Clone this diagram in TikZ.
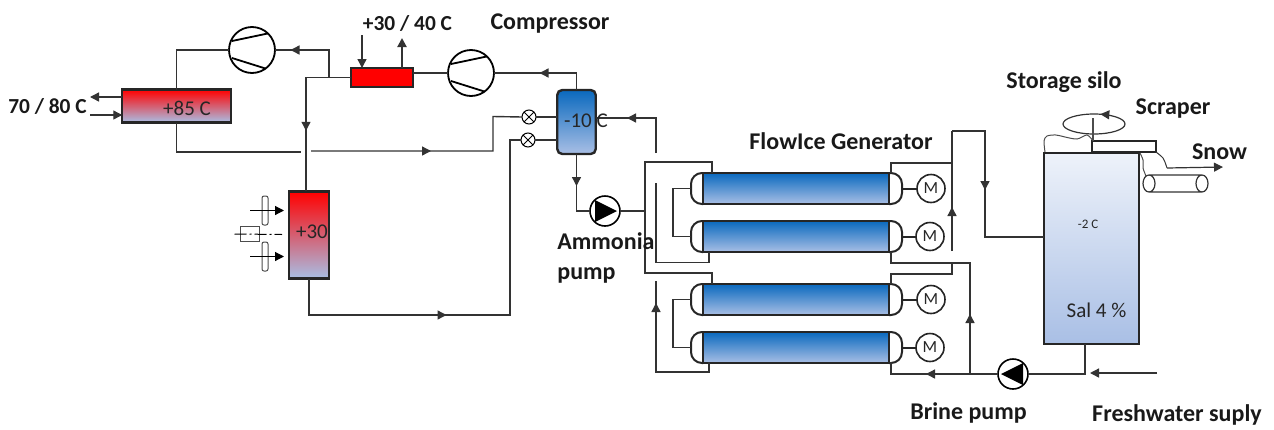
\documentclass[tikz,border=0pt]{standalone}
\usepackage{fontspec}
\setmainfont{Carlito}
\usetikzlibrary{positioning,arrows.meta,decorations.markings}
\definecolor{hotred}{RGB}{255,0,0}
\definecolor{coldblue}{RGB}{169,191,229}
\definecolor{deepblue}{RGB}{10,105,190}
\tikzset{>={Triangle[length=4.5pt,width=4.5pt]}, % all the arrow heads
x=0.5pt,y=-0.5pt, % one unit is one pixel of the sheet
pipe/.style={line width=0.7pt,black!80}, % the plain connecting lines
tip/.style={postaction={decorate},decoration={markings,mark=at position #1 with {\arrow{>}}}}, % arrow head part way along a line
box/.style={draw,line width=1.2pt,black!85,inner sep=0pt,outer sep=0pt}, % every vessel
hxhot/.style={box,shading angle=0,top color=hotred,bottom color=coldblue,middle color=hotred!50!coldblue}, % hot to cold
hxcold/.style={box,top color=deepblue,bottom color=coldblue,minimum width=19.25pt,minimum height=32pt,rounded corners=2.5pt},
tube/.style={box,top color=deepblue,bottom color=coldblue,minimum width=93pt,minimum height=15.5pt},
compressor/.style={circle,draw,line width=0.9pt,inner sep=0pt,outer sep=0pt,minimum size=23pt,
  path picture={\draw[line width=0.9pt,shift={(path picture bounding box.center)}] (-20,-9) -- (18,-17) (-20,8) -- (15,19);}},
pump/.style={circle,draw,line width=0.8pt,inner sep=0pt,outer sep=0pt,minimum size=15pt,
  path picture={\fill[shift={(path picture bounding box.center)}] (-10*#1,-11) -- (12*#1,0) -- (-10*#1,11) -- cycle;}},
valve/.style={circle,draw,line width=0.5pt,inner sep=0pt,outer sep=0pt,minimum size=7pt,
  path picture={\draw[line width=0.5pt,shift={(path picture bounding box.center)}] (-5,-5) -- (5,5) (-5,5) -- (5,-5);}},
motor/.style={circle,draw,line width=0.8pt,black!85,inner sep=0pt,outer sep=0pt,minimum size=14pt,font=\fontsize{8.5}{9}\selectfont},
fan/.style={draw,line width=0.5pt,black!70,rounded corners=1pt,minimum width=3pt,minimum height=14.5pt,inner sep=0pt,outer sep=0pt},
bold/.style={font=\fontsize{12}{15}\selectfont\bfseries,text=black!90,inner sep=0pt,align=left},
boldsmall/.style={bold,font=\fontsize{10.7}{13}\selectfont\bfseries},
temp/.style={font=\fontsize{10.5}{12}\selectfont,text=black!85,inner sep=0pt},
}
\begin{document}
\begin{tikzpicture}
\useasboundingbox (0,0) rectangle (1274,429);
% vessels
\node[hxhot,minimum width=54.25pt,minimum height=16.5pt] (hx85) at (176.5,106) {};
\node[hxhot,minimum width=20pt,minimum height=43.5pt] (hx30) at (309,235) {};
\node[box,fill=hotred,minimum width=31.25pt,minimum height=9.5pt] (cooler) at (382,77.5) {};
\node[hxcold] (evap) at (576.5,122) {};
\node[box,top color=white!80!coldblue,bottom color=coldblue,minimum width=47.5pt,minimum height=95.5pt] (silo) at (1091.5,248.5) {};
\node[box,line width=0.8pt,fill=white,minimum width=32pt,minimum height=5.5pt] (scraper) at (1124,146.5) {};
% machines
\node[compressor] (comp1) at (252,50) {};
\node[compressor] (comp2) at (471,73) {};
\node[pump=1] (pump1) at (605,211) {};
\node[pump=-1] (pump2) at (1013,374) {};
\node[valve] (valve1) at (529,117) {};
\node[valve] (valve2) at (528,140) {};
% generator
\node[tube] (tube1) at (796,188.5) {};
\node[tube,below of=tube1,node distance=24pt] (tube2) {};
\node[tube,below of=tube2,node distance=31.5pt] (tube3) {};
\node[tube,below of=tube3,node distance=24pt] (tube4) {};
\node[motor,right of=tube1,node distance=67.5pt] (mot1) {M};
\node[motor,right of=tube2,node distance=67pt] (mot2) {M};
\node[motor,right of=tube3,node distance=67.5pt] (mot3) {M};
\node[motor,right of=tube4,node distance=67pt] (mot4) {M};
\foreach \t/\m in {tube1/mot1,tube2/mot2,tube3/mot3,tube4/mot4}{
  \draw[line width=1pt,black!85,rounded corners=5.5pt] (\t.north west) -- ++(-12,0) -- ++(0,31) -- (\t.south west);
  \draw[line width=1pt,black!85,rounded corners=5.5pt] (\t.north east) -- ++(13,0) -- ++(0,31) -- (\t.south east);
  \coordinate (\t L) at ([xshift=-6pt]\t.west);
  \coordinate (\t R) at ([xshift=6.5pt]\t.east);
  \draw[line width=1pt,black!85] (\t R) -- (\m);
}
\draw[pipe] (tube1L) -- ++(-18,0) |- (tube2L);
\draw[pipe] (tube3L) -- ++(-18,0) |- (tube4L);
% fan of the condenser
\node[fan] (fan1) at (265,210.5) {};
\node[fan] (fan2) at (265,256.5) {};
\node[draw,line width=0.5pt,black!70,minimum width=9.5pt,minimum height=7.5pt,inner sep=0pt] (fanmot) at (249.5,234) {};
\draw[->,line width=0.6pt] ([xshift=-7.5pt]fan1.center) -- ([xshift=9.5pt]fan1.center);
\draw[->,line width=0.6pt] ([xshift=-7.5pt]fan2.center) -- ([xshift=9.5pt]fan2.center);
\coordinate (axisend) at (282,234.5);
\draw[line width=0.5pt,dash pattern=on 6pt off 1.5pt on 1pt off 1.5pt] ([xshift=-7.5pt]fanmot.center) -- (axisend);
% scraper and snow
\coordinate (ringE) at (1125,124);
\draw[line width=0.6pt,black!80,tip=14pt] (ringE) arc[start angle=360,end angle=0,x radius=31,y radius=10];
\coordinate (axisT) at (1093,118);
\draw[line width=0.6pt,black!70] (axisT) -- (scraper.north west -| axisT);
\draw[line width=0.5pt,black!70] plot[smooth] coordinates {(1045,152) (1044,141) (1047,136) (1056,135) (1065,137) (1077,139) (1087,135) (1093,141)};
\draw[line width=0.5pt,black!70] plot[smooth] coordinates {(1140,153) (1143,160) (1143,168) (1146,176)};
\coordinate (chute) at (1156,152);
\coordinate (snowS) at (1167,168);
\coordinate (snowE) at (1223,167);
\draw[line width=0.5pt,black!80] plot[smooth] coordinates {(chute) (1163,158) (1166,165) (snowS)};
\draw[->,line width=0.6pt,black!80] (snowS) -- (snowE);
\coordinate (beltL) at (1149,183.5);
\coordinate (beltR) at (1202,183.5);
\draw[line width=0.6pt,black!80] (1149,175) -- (1202,175) (1149,192) -- (1202,192) (beltL) circle[x radius=6,y radius=8.5] (beltR) circle[x radius=6,y radius=8.5];
% refrigerant side
\coordinate (junc) at (329,77.5);
\coordinate (drop) at (306,191);
\coordinate (gapL) at (301,152);
\coordinate (gapR) at (311,151);
\coordinate (turn1) at (493,116.5);
\coordinate (turn2) at (510,140);
\coordinate (evapR) at (595.5,118);
\coordinate (retup) at (656,153);
\draw[pipe,tip=33pt] (junc) |- (comp1.east);
\draw[pipe] (comp1.west) -| (hx85.north);
\draw[pipe,tip=49pt] (cooler.west) -| (drop);
\draw[pipe] (cooler.east |- comp2.west) -- (comp2.west);
\draw[pipe,tip=27pt] (evap.north) |- (comp2.east);
\draw[pipe] (hx85.south) |- (gapL);
\draw[pipe,tip=60pt] (gapR) -| (turn1) -- (valve1.west);
\draw[pipe,tip=87pt] (hx30.south) |- (turn2 |- 0,315) -- (turn2) -- (valve2.west);
\draw[pipe] (valve1.east) -- (valve1 -| evap.west);
\draw[pipe] (valve2.east) -- (valve2 -| evap.west);
\draw[pipe,tip=32pt] (retup) |- (evapR);
\draw[pipe,tip=16pt] (evap.south) |- (pump1.west);
% heat sinks
\coordinate (coolIn) at (362,35);
\coordinate (coolOut) at (402,38);
\coordinate (hotOut) at (90,97);
\coordinate (hotIn) at (90,115);
\draw[->,pipe] (coolIn) -- (coolIn |- cooler.north);
\draw[->,pipe,line width=1pt] (coolOut |- cooler.north) -- (coolOut);
\draw[->,pipe] (hotOut -| hx85.west) -- (hotOut);
\draw[->,pipe] (hotIn) -- (hotIn -| hx85.west);
% manifolds on the left
\coordinate (feed1) at (712,173);
\coordinate (feed3) at (712,284);
\coordinate (manT) at (645,162);
\coordinate (manB) at (645,273);
\coordinate (retT) at (656,183);
\coordinate (retB) at (656,262.5);
\coordinate (ret2) at (709,252);
\coordinate (ret3T) at (656,281);
\coordinate (ret3B) at (656,372);
\coordinate (ret4) at (709,362);
\draw[pipe] (feed1) |- (manT) -- (manB) -| (feed3);
\draw[pipe] (pump1.east) -- (pump1 -| manT);
\draw[pipe] (retT) -- (retB) -| (ret2);
\draw[pipe,tip=66pt] (ret4) |- (ret3B) -- (ret3T);
% brine side
\coordinate (risT) at (952,131);
\coordinate (risB) at (952,251);
\coordinate (risR) at (985,131);
\coordinate (siloIn) at (1044,237);
\coordinate (out1) at (891,173);
\coordinate (hdr1) at (952,163);
\coordinate (out2) at (891,251.5);
\coordinate (brineT) at (970,263);
\coordinate (brineJ) at (970,374);
\coordinate (out3) at (891,284);
\coordinate (hdr3) at (952,263);
\coordinate (out4) at (891,362);
\coordinate (siloOut) at (1085,344);
\coordinate (fwS) at (1157,373);
\coordinate (fwE) at (1090,373);
\draw[pipe,tip=22pt] (risB) -- (risT);
\draw[pipe,tip=46pt] (risT) -- (risR) |- (siloIn);
\draw[pipe] (out1) |- (hdr1);
\draw[pipe,tip=30pt] (brineJ) -- (brineT) -| (out2);
\draw[pipe] (out3) -- ++(0,-10) -| (hdr3);
\draw[pipe,tip=36pt] (pump2.west) -| (out4);
\draw[pipe] (siloOut) |- (pump2.east);
\draw[->,pipe] (fwS) -- (fwE);
% labels
\node[boldsmall] (t1) at (47.5,106) {70 / 80 C};
\node[boldsmall] (t2) at (407.5,23) {+30 / 40 C};
\node[bold] (t3) at (550,24) {Compressor};
\node[bold,anchor=west] (t4) at (557,258) {Ammonia\\pump};
\node[bold] (t5) at (841,141) {FlowIce Generator};
\node[bold] (t6) at (1064,82) {Storage silo};
\node[bold] (t7) at (1173,109) {Scraper};
\node[bold] (t8) at (1219.5,152) {Snow};
\node[bold] (t9) at (968.5,413) {Brine pump};
\node[bold] (t10) at (1177,415) {Freshwater suply};
\node[temp] (l1) at (187,108) {+85 C};
\node[temp] (l2) at (312,232) {+30};
\node[temp] (l3) at (586,121) {-10 C};
\node[temp] (l4) at (1096.5,310) {Sal 4 \%};
\node[temp,font=\fontsize{6.5}{7}\selectfont] (l5) at (1088,224) {-2 C};
\end{tikzpicture}
\end{document}
